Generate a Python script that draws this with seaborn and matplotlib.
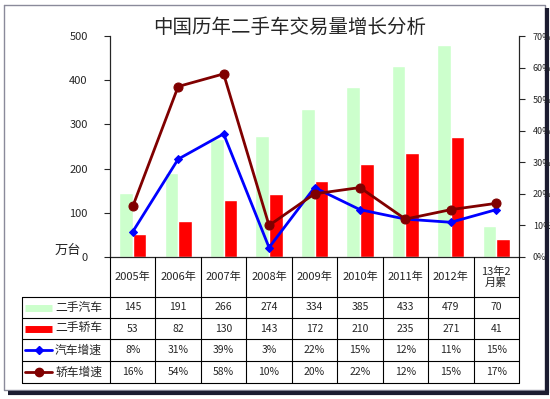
import numpy as np
import pandas as pd
import seaborn as sns
import matplotlib.pyplot as plt
from matplotlib.lines import Line2D
from matplotlib.ticker import FuncFormatter

# dados do gráfico
anos = ['2005年', '2006年', '2007年', '2008年', '2009年', '2010年', '2011年', '2012年', '13年2\n月累']
qiche = [145, 191, 266, 274, 334, 385, 433, 479, 70]       # 二手汽车 (万台)
jiaoche = [53, 82, 130, 143, 172, 210, 235, 271, 41]       # 二手轿车 (万台)
qiche_zs = [8, 31, 39, 3, 22, 15, 12, 11, 15]              # 汽车增速 (%)
jiaoche_zs = [16, 54, 58, 10, 20, 22, 12, 15, 17]          # 轿车增速 (%)

verde = '#ccffcc'
vermelho = '#ff0000'
azul = '#0000ff'
vinho = '#800000'

sns.set_style('white')
plt.rcParams['font.family'] = ['Noto Sans CJK SC', 'DejaVu Sans']

df = pd.DataFrame({
    'ano': anos * 2,
    'valor': qiche + jiaoche,
    'tipo': ['二手汽车'] * len(anos) + ['二手轿车'] * len(anos),
})

fig = plt.figure(figsize=(5.5, 3.99), dpi=100)
ax = fig.add_axes([110 / 550, 1 - 257 / 399, 409 / 550, 221 / 399])

sns.barplot(data=df, x='ano', y='valor', hue='tipo', order=anos,
            palette=[verde, vermelho], width=0.6, saturation=1,
            legend=False, ax=ax)
ax.set_xlim(-0.5, len(anos) - 0.5)
ax.set_ylim(0, 500)
ax.set_yticks([0, 100, 200, 300, 400, 500])
ax.set_xticks([])
ax.set_xlabel('')
ax.set_ylabel('')
ax.tick_params(axis='y', labelsize=8, length=4, direction='out', left=True, pad=12)
ax.spines['top'].set_visible(False)
for s in ['left', 'right', 'bottom']:
    ax.spines[s].set_color('black')
    ax.spines[s].set_linewidth(0.8)

# linhas de crescimento no eixo secundário
ax2 = ax.twinx()
x = np.arange(len(anos))
sns.lineplot(x=x, y=qiche_zs, color=azul, marker='D', markersize=4.5,
             markeredgecolor=azul, linewidth=2, ax=ax2)
sns.lineplot(x=x, y=jiaoche_zs, color=vinho, marker='o', markersize=6.5,
             markeredgecolor=vinho, linewidth=2, ax=ax2)
ax2.set_ylim(0, 70)
ax2.set_yticks(range(0, 71, 10))
ax2.yaxis.set_major_formatter(FuncFormatter(lambda v, p: f'{int(v)}%'))
ax2.tick_params(axis='y', labelsize=6.5, length=4, direction='out', right=True, pad=6)
ax2.spines['top'].set_visible(False)
ax2.set_xlim(-0.5, len(anos) - 0.5)

# camada em pixels para moldura e tabela
tax = fig.add_axes([0, 0, 1, 1], zorder=-1)
tax.set_xlim(0, 550)
tax.set_ylim(399, 0)
tax.axis('off')

# moldura com sombra
tax.plot([4, 545, 545, 4, 4], [5, 5, 390, 390, 5], color='#8a8a9a', lw=1)
tax.plot([547, 547], [8, 393], color='#1c1c30', lw=3, solid_capstyle='butt')
tax.plot([8, 548.5], [392.5, 392.5], color='#1c1c30', lw=3, solid_capstyle='butt')

tx = fig.add_axes([0, 0, 1, 1])
tx.set_xlim(0, 550)
tx.set_ylim(399, 0)
tx.axis('off')

tx.text(290, 27, '中国历年二手车交易量增长分析', fontsize=14, ha='center', va='center')
tx.text(68, 250, '万台', fontsize=9.5, ha='center', va='center')

xs = np.linspace(110, 519, len(anos) + 1)
ys = [297, 318, 339, 361, 383]
lc = dict(color='black', lw=0.8)
for xv in xs:
    tx.plot([xv, xv], [257, 383], **lc)
tx.plot([22, 22], [297, 383], **lc)
for yv in ys:
    tx.plot([22, 519], [yv, yv], **lc)

centros = (xs[:-1] + xs[1:]) / 2
for cx, a in zip(centros, anos):
    tx.text(cx, 277, a, fontsize=8, ha='center', va='center', linespacing=1.1)

linhas = [
    ('二手汽车', [str(v) for v in qiche]),
    ('二手轿车', [str(v) for v in jiaoche]),
    ('汽车增速', [f'{v}%' for v in qiche_zs]),
    ('轿车增速', [f'{v}%' for v in jiaoche_zs]),
]
for i, (nome, vals) in enumerate(linhas):
    cy = (ys[i] + ys[i + 1]) / 2
    tx.text(102, cy, nome, fontsize=8.5, ha='right', va='center')
    for cx, v in zip(centros, vals):
        tx.text(cx, cy, v, fontsize=7.5, ha='center', va='center')

# chaves da legenda na tabela
def meio(i):
    return (ys[i] + ys[i + 1]) / 2

tx.add_line(Line2D([25, 52], [meio(0)] * 2, color=verde, lw=5, solid_capstyle='butt'))
tx.add_line(Line2D([25, 52], [meio(1)] * 2, color=vermelho, lw=5, solid_capstyle='butt'))
tx.add_line(Line2D([25, 52], [meio(2)] * 2, color=azul, lw=2))
tx.plot([38.5], [meio(2)], marker='D', color=azul, markersize=4)
tx.add_line(Line2D([25, 52], [meio(3)] * 2, color=vinho, lw=2))
tx.plot([38.5], [meio(3)], marker='o', color=vinho, markersize=6)

fig.savefig('out.png', dpi=100)
